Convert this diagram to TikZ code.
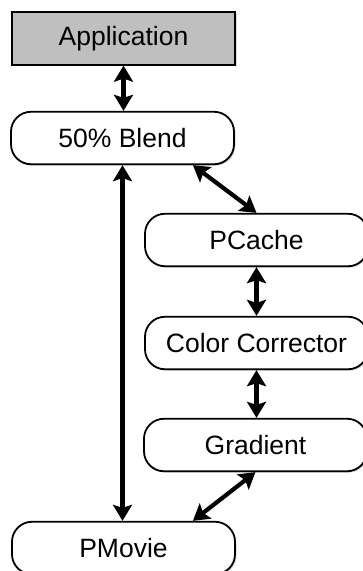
\documentclass[tikz,border=0pt]{standalone}
\usepackage{fontspec}
\setmainfont{Liberation Sans}
\usetikzlibrary{arrows.meta,shadows,calc}
\tikzset{
  box/.style={draw=black, line width=1.8pt, fill=white, minimum width=223pt,
    minimum height=52.5pt, inner sep=0pt, rounded corners=20pt,
    font=\fontsize{26.5}{30}\selectfont,
    drop shadow={opacity=0.3, shadow xshift=1.5pt, shadow yshift=-1.5pt}},
  appbox/.style={box, rounded corners=0pt, fill=black!25},
  link/.style={line width=4.2pt,
    {Stealth[length=16pt,width=19pt,inset=3pt]}-{Stealth[length=16pt,width=19pt,inset=3pt]}}
}
\begin{document}
\begin{tikzpicture}[x=1pt,y=-1pt]
\useasboundingbox (0,0) rectangle (362,571);
% processing chain nodes
\node[appbox] (app)    at (123.5,38.5) {Application};
\node[box]    (blend)  at (122.5,138)  {50\% Blend};
\node[box]    (pcache) at (256.5,240)  {PCache};
\node[box]    (cc)     at (256.5,343)  {Color Corrector};
\node[box]    (grad)   at (255.5,445)  {Gradient};
\node[box]    (pmovie) at (123.5,548)  {PMovie};
% connections
\draw[link] (app.south) -- (app.south |- blend.north);
\draw[link] (blend.south) -- (blend.south |- pmovie.north);
\draw[link] ($(blend.south east)+(-42,0)$) -- (pcache.north);
\draw[link] (pcache.south) -- (pcache.south |- cc.north);
\draw[link] (cc.south) -- (cc.south |- grad.north);
\draw[link] (grad.south) -- ($(pmovie.north east)+(-43,0)$);
\end{tikzpicture}
\end{document}
